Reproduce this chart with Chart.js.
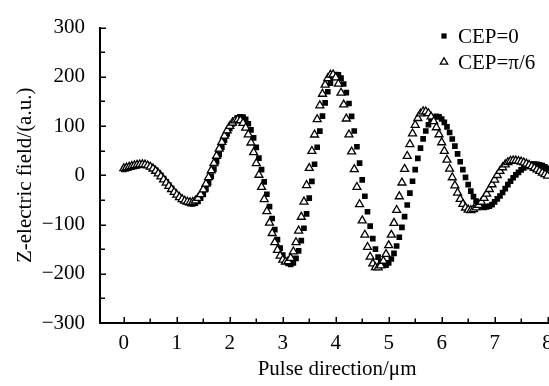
<!DOCTYPE html>
<html>
<head>
<meta charset="utf-8">
<script src="https://cdn.jsdelivr.net/npm/chart.js@4"></script>
<style>
  html, body { margin: 0; padding: 0; background: #fff; overflow: hidden; }
  #wrap { position: relative; width: 580px; height: 386px; }
  #c { display: block; }
</style>
</head>
<body>
<div id="wrap"><canvas id="c" width="580" height="386"></canvas></div>
<script>
// Z-electric field sampled along the pulse direction (μm), step 0.05 μm, 0 … 8 μm
const seriesLabels = ['CEP=0', 'CEP=\u03c0/6'];

const cep0 = [
  12, 13.5, 15, 16.5, 18, 19.3, 20.3, 20.9, 20.9, 19.9, 17.7, 14.5, 10.4, 5.4, -0.3, -6.5, -13.1, -19.8, -26.6, -33.0,
  -39.0, -44.5, -49.2, -52.9, -55.7, -57.4, -58, -56.7, -52.9, -46.7, -38.2, -27.6, -15.4, -2.0, 12.5, 27.5, 42.5, 57.3, 71.3, 84.0,
  95.1, 104.4, 111.7, 116.5, 118.8, 118.2, 113.6, 104.7, 92.2, 76.0, 56.7, 35.0, 11.5, -13.4, -38.5, -63.6, -87.8, -110.3, -130.6, -148.0,
  -162.1, -172.6, -178.9, -181, -177.9, -168.6, -153.4, -132.8, -107.5, -78.5, -46.3, -12.3, 22.4, 57.0, 89.8, 120.3, 147.1, 169.7, 187.2, 198.8,
  204.5, 203.9, 197.4, 185.4, 167.9, 145.8, 119.6, 90.0, 57.9, 24.6, -9.4, -42.5, -74.0, -103.1, -128.7, -149.8, -166.1, -177.2, -182.5, -182.3,
  -178.0, -170.0, -158.5, -143.6, -125.9, -105.9, -83.8, -60.4, -36.3, -12.1, 11.5, 34.3, 55.3, 73.9, 89.9, 102.7, 112.3, 118.0, 120, 118.6,
  114.4, 107.6, 98.4, 87.0, 73.8, 59.1, 43.6, 27.5, 11.4, -4.1, -18.8, -32.0, -43.4, -52.6, -59.4, -63.6, -65, -64.4, -62.6, -59.7,
  -54, -48, -42, -35, -27, -19, -12, -5, 1, 6, 11, 15, 19, 21, 22.5, 23, 22.5, 21.5, 19.5, 17,
  14
];

const cepPi6 = [
  14, 15.5, 17, 18.5, 20, 21, 21.7, 22, 21.5, 19.8, 17.1, 13.4, 8.8, 3.5, -2.4, -8.7, -15.2, -21.7, -28.2, -34.2,
  -39.8, -44.6, -48.6, -51.8, -53.9, -54.9, -54.5, -51.6, -46.3, -38.6, -28.8, -17.3, -4.2, 9.9, 24.6, 39.3, 53.9, 67.6, 80.1, 90.9,
  100.0, 106.7, 111.2, 113, 111.6, 106.1, 96.5, 82.9, 66.2, 46.5, 24.4, 0.7, -24.0, -48.8, -73.3, -96.4, -117.6, -136.3, -151.7, -163.7,
  -171.8, -175.7, -174.9, -168.0, -154.9, -136.2, -112.6, -84.6, -53.7, -20.2, 14.5, 49.2, 82.5, 113.6, 141.8, 165.2, 183.9, 197.0, 203.9, 204.5,
  198.5, 185.9, 167.5, 143.5, 115.0, 82.6, 48.0, 12.2, -23.9, -59.1, -91.9, -121.0, -145.9, -165.6, -179.5, -187.1, -187.6, -183.2, -174.0, -160.2,
  -142.4, -121.1, -96.9, -70.7, -43.0, -15.0, 12.7, 38.9, 63.1, 84.7, 102.2, 116.0, 125.2, 129.6, 129.4, 125.9, 119.1, 109.5, 97.2, 83.0,
  66.7, 49.3, 31.3, 13.2, -4.4, -20.7, -35.5, -48.3, -58.3, -65.8, -70.0, -70.9, -69.2, -65.7, -60.6, -54.1, -46.3, -37.6, -28.2, -18.6,
  -9.0, 0.2, 8.6, 15.9, 21.9, 26.4, 29.1, 30, 29.7, 28.9, 27.6, 25.8, 23.5, 20.9, 18.0, 14.9, 11.6, 8.4, 5.1, 2.0,
  -0.9
];

const positions = cep0.map((_, i) => Math.round(i * 5) / 100);

const xTicks = [0, 1, 2, 3, 4, 5, 6, 7, 8];
const yTicks = [-300, -200, -100, 0, 100, 200, 300];
const xTitle = 'Pulse direction/\u03bcm';
const yTitle = 'Z-electric field/(a.u.)';

const FAMILY = "'Liberation Serif', 'Times New Roman', Times, serif";
const FONT_SIZE = 21;

// tick marks pointing into the plot, with half-step minor ticks
const innerTicks = {
  id: 'innerTicks',
  afterDraw(chart) {
    const { ctx, chartArea, scales: { x, y } } = chart;
    ctx.save();
    ctx.strokeStyle = '#000';
    ctx.lineWidth = 1.5;
    ctx.beginPath();
    for (let v = 0; v <= 8.5; v += 0.5) {
      const px = Math.round(x.getPixelForValue(v)) + 0.25;
      const len = Number.isInteger(v) ? 6 : 4.5;
      ctx.moveTo(px, chartArea.bottom);
      ctx.lineTo(px, chartArea.bottom - len);
    }
    for (let v = -250; v <= 300; v += 50) {
      const py = Math.round(y.getPixelForValue(v)) + 0.25;
      const len = v % 100 === 0 ? 6 : 5;
      ctx.moveTo(chartArea.left, py);
      ctx.lineTo(chartArea.left + len, py);
    }
    ctx.stroke();
    ctx.restore();
  }
};

// series key in the upper right of the plot
const seriesKey = {
  id: 'seriesKey',
  afterDraw(chart) {
    const { ctx } = chart;
    const rows = [36, 62];
    ctx.save();
    ctx.font = FONT_SIZE + 'px ' + FAMILY;
    ctx.textAlign = 'left';
    ctx.textBaseline = 'alphabetic';
    chart.data.datasets.forEach((ds, i) => {
      const cy = rows[i];
      ctx.fillStyle = ds.backgroundColor;
      ctx.strokeStyle = ds.borderColor;
      ctx.lineWidth = ds.borderWidth;
      Chart.helpers.drawPoint(ctx, {
        pointStyle: ds.pointStyle,
        radius: ds.pointRadius - 0.3,
        borderWidth: ds.borderWidth,
        rotation: 0
      }, 444, cy);
      ctx.fillStyle = '#000';
      ctx.fillText(ds.label, 458, cy + 7);
    });
    ctx.restore();
  }
};

const tickFont = { family: FAMILY, size: FONT_SIZE };

new Chart(document.getElementById('c'), {
  type: 'scatter',
  data: {
    datasets: [
      {
        label: seriesLabels[0],
        data: positions.map((x, i) => ({ x, y: cep0[i] })),
        pointStyle: 'rect',
        pointRadius: 4,
        backgroundColor: '#000',
        borderColor: '#000',
        borderWidth: 0,
        showLine: false,
        order: 2
      },
      {
        label: seriesLabels[1],
        data: positions.map((x, i) => ({ x, y: cepPi6[i] })),
        pointStyle: 'triangle',
        pointRadius: 4.6,
        backgroundColor: '#fff',
        borderColor: '#000',
        borderWidth: 1.3,
        showLine: false,
        order: 1
      }
    ]
  },
  options: {
    responsive: false,
    animation: false,
    devicePixelRatio: 1,
    layout: { padding: { top: 13, right: 5.5, bottom: 0, left: 0 } },
    plugins: {
      legend: { display: false },
      tooltip: { enabled: false }
    },
    scales: {
      x: {
        type: 'linear',
        min: -0.45,
        max: 8.5,
        afterBuildTicks: s => { s.ticks = xTicks.map(v => ({ value: v })); },
        afterFit: s => { s.height = 63; },
        grid: { display: false, drawTicks: false },
        border: { display: true, color: '#000', width: 2 },
        ticks: { font: tickFont, color: '#000', padding: 8, maxRotation: 0 },
        title: {
          display: true, text: xTitle, color: '#000',
          font: { family: FAMILY, size: FONT_SIZE },
          padding: { top: 0, bottom: 4.4 }
        }
      },
      y: {
        type: 'linear',
        min: -300,
        max: 300,
        afterBuildTicks: s => { s.ticks = yTicks.map(v => ({ value: v })); },
        afterFit: s => { s.width = 100; },
        grid: { display: false, drawTicks: false },
        border: { display: true, color: '#000', width: 2 },
        ticks: {
          font: tickFont, color: '#000', padding: 15,
          callback: v => (v < 0 ? '\u2212' + Math.abs(v) : String(v))
        },
        title: {
          display: true, text: yTitle, color: '#000',
          font: { family: FAMILY, size: FONT_SIZE },
          padding: { top: 12.4, bottom: 0 }
        }
      }
    }
  },
  plugins: [innerTicks, seriesKey]
});
</script>
</body>
</html>
